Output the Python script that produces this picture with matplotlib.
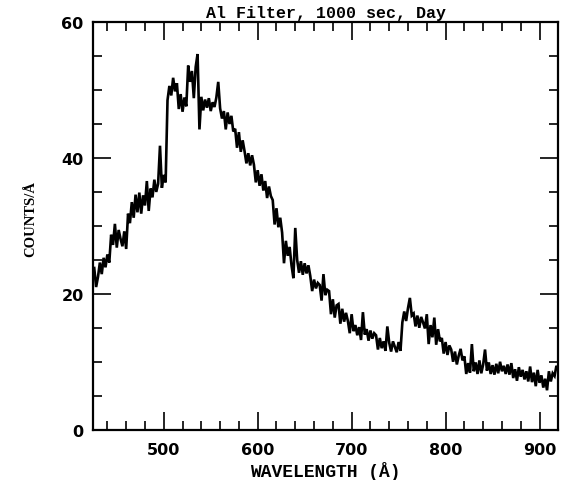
import matplotlib
matplotlib.use("Agg")
import matplotlib.pyplot as plt
import numpy as np
from matplotlib.ticker import MultipleLocator

# wavelength bins (2 A) and counts
wave = np.arange(426, 921, 2)
counts = [
    23.8, 21.0, 22.5, 24.6, 22.9,
    25.3, 23.9, 25.8, 24.6, 28.7,
    27.2, 30.3, 26.8, 29.4, 28.1,
    27.0, 29.2, 26.6, 31.8, 30.4,
    33.5, 31.2, 34.6, 32.0, 34.9,
    31.8, 34.5, 33.0, 36.6, 32.2,
    35.5, 34.2, 36.8, 35.0, 36.2,
    41.8, 35.6, 37.5, 36.4, 48.5,
    50.6, 49.2, 51.8, 49.8, 51.0,
    47.2, 49.4, 46.8, 48.9, 47.6,
    53.6, 51.2, 52.8, 48.8, 53.4,
    55.3, 44.2, 49.0, 47.0, 48.6,
    47.4, 48.8, 46.9, 48.2, 47.5,
    48.9, 51.2, 47.3, 45.8, 46.9,
    44.2, 46.7, 45.0, 46.2, 43.9,
    44.3, 41.5, 43.8, 40.9, 42.6,
    41.0, 39.2, 40.7, 38.9, 40.4,
    39.0, 36.4, 38.2, 35.9, 37.6,
    35.2, 36.6, 34.1, 35.8, 34.4,
    33.8, 30.2, 32.6, 29.8, 31.2,
    29.0, 24.5, 27.8, 25.6, 26.9,
    24.2, 22.3, 29.7, 25.0, 23.1,
    24.8, 22.8, 24.5, 23.0, 24.2,
    22.6, 20.4, 22.1, 20.8, 21.6,
    21.3, 19.0, 22.9, 19.8, 20.6,
    20.4, 17.0, 19.2, 16.5, 18.3,
    18.5, 15.6, 17.8, 15.9, 17.2,
    16.0, 14.2, 17.0, 14.5, 15.4,
    13.9, 15.1, 13.2, 17.3, 14.0,
    14.8, 13.1, 14.6, 13.4, 14.2,
    13.9, 11.8, 13.5, 12.0, 13.0,
    11.6, 15.2, 12.8, 11.5, 13.0,
    12.2, 11.4, 12.9, 11.6, 15.8,
    17.4, 16.0, 17.9, 19.4, 16.8,
    17.1, 15.2, 16.8, 15.0, 16.6,
    15.8, 14.9, 17.0, 12.6, 15.4,
    13.6, 16.5, 12.5, 14.8, 13.0,
    13.5, 11.2, 12.9, 11.0, 12.4,
    11.8, 10.0, 11.5, 9.6, 10.9,
    11.9, 10.2, 10.8, 8.2, 9.8,
    8.4, 12.6, 8.6, 9.9, 8.2,
    10.2, 8.3, 9.6, 11.8, 8.7,
    9.9, 8.2, 9.5, 8.1, 9.7,
    8.3, 10.0, 8.6, 9.4, 8.2,
    9.6, 8.1, 9.8, 7.6, 8.9,
    7.2, 9.2, 7.8, 8.8, 7.4,
    8.6, 7.1, 9.3, 7.0, 8.4,
    6.4, 8.8, 6.9, 8.0, 6.2,
    7.5, 5.8, 8.6, 7.1, 8.3,
    7.9, 9.4, 8.8,
]

fig = plt.figure(figsize=(5.61, 4.81), dpi=100)
ax = fig.add_axes([0.1663, 0.1046, 0.8289, 0.8474])

ax.plot(wave, counts, color="black", lw=1.9, solid_joinstyle="miter")

ax.set_xlim(425, 920)
ax.set_ylim(0, 60)
ax.xaxis.set_major_locator(MultipleLocator(100))
ax.xaxis.set_minor_locator(MultipleLocator(20))
ax.yaxis.set_major_locator(MultipleLocator(20))
ax.yaxis.set_minor_locator(MultipleLocator(5))

ax.tick_params(which="both", direction="in", top=True, right=True, width=1.2, color="black")
ax.tick_params(which="major", length=13)
ax.tick_params(which="minor", length=6.5)
ax.tick_params(axis="x", which="major", pad=9)
ax.tick_params(axis="y", which="major", pad=7)
for lab in ax.get_xticklabels() + ax.get_yticklabels():
    lab.set_family("DejaVu Sans")
    lab.set_weight("bold")
    lab.set_fontsize(11.5)
for s in ax.spines.values():
    s.set_linewidth(1.6)

ax.set_title("Al Filter, 1000 sec, Day", family="Liberation Mono", weight="bold",
             fontsize=12, pad=3.5)
ax.set_xlabel("WAVELENGTH (Å)", family="Liberation Mono", weight="bold", fontsize=13)
ax.xaxis.set_label_coords(0.5, -0.078)
ax.set_ylabel("COUNTS/Å", family="Liberation Serif", weight="bold", fontsize=10.5, va="center")
ax.yaxis.set_label_coords(-0.134, 0.519)

fig.savefig("out.png", dpi=100)
